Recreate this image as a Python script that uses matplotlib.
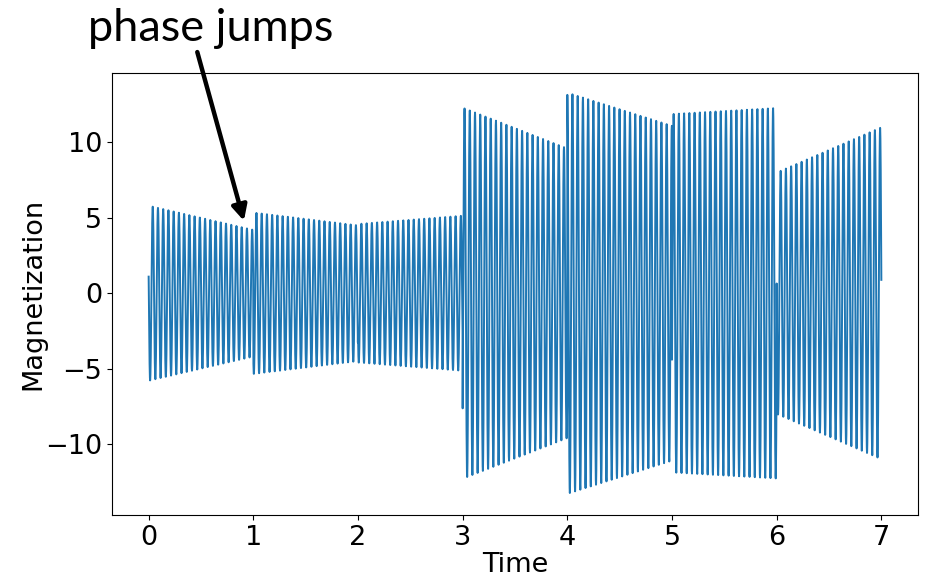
import numpy as np
import matplotlib.pyplot as plt

# magnetization signal: one piece per time unit, phase jumps at every integer time
seg_start = [0, 1, 2, 3, 4, 5, 6]
seg_end = [1, 2, 3, 4, 5, 6, 7]
amp_start = [5.8, 5.35, 4.6, 12.3, 13.3, 11.9, 8.0]   # envelope at start of piece
amp_end = [4.2, 4.5, 5.15, 9.6, 11.1, 12.3, 11.0]     # envelope at end of piece
phase0 = [1.38, 2.51, 2.2, -2.24, 0.15, -1.95, 1.49]   # phase (rad) right after each jump
freq = 20.0  # cycles per time unit
dt = 0.001

t_all = []
m_all = []
for t0, t1, a0, a1, ph in zip(seg_start, seg_end, amp_start, amp_end, phase0):
    t = np.arange(t0, t1, dt)
    if t1 == seg_end[-1]:
        t = np.append(t, t1)
    env = np.interp(t, [t0, t1], [a0, a1])
    t_all.append(t)
    m_all.append(env * np.cos(2 * np.pi * freq * (t - t0) + ph))
time = np.concatenate(t_all)
mag = np.concatenate(m_all)

fig = plt.figure(figsize=(9.35, 5.85), dpi=100)
ax = fig.add_axes([0.1198, 0.1197, 0.862, 0.7555])
ax.plot(time, mag, color="#1f77b4", lw=1.4)
ax.set_xlim(-0.35, 7.35)
ax.set_ylim(-14.7, 14.6)
ax.set_xticks(range(8))
ax.set_yticks([-10, -5, 0, 5, 10])
ax.tick_params(labelsize=19.5)
ax.set_xlabel("Time", fontsize=19.5, labelpad=1)
ax.set_ylabel("Magnetization", fontsize=19.5, labelpad=-1)

# label + arrow pasted over the plot
fig.text(0.094, 0.952, "phase jumps", fontsize=32.5, family="Lato", va="center", ha="left")
ax.annotate("", xy=(0.91, 4.8), xycoords="data",
            xytext=(0.211, 0.911), textcoords="figure fraction",
            arrowprops=dict(arrowstyle="-|>,head_length=0.9,head_width=0.45",
                            color="black", lw=3.2, shrinkA=0, shrinkB=0))

fig.savefig("out.png", dpi=100)
